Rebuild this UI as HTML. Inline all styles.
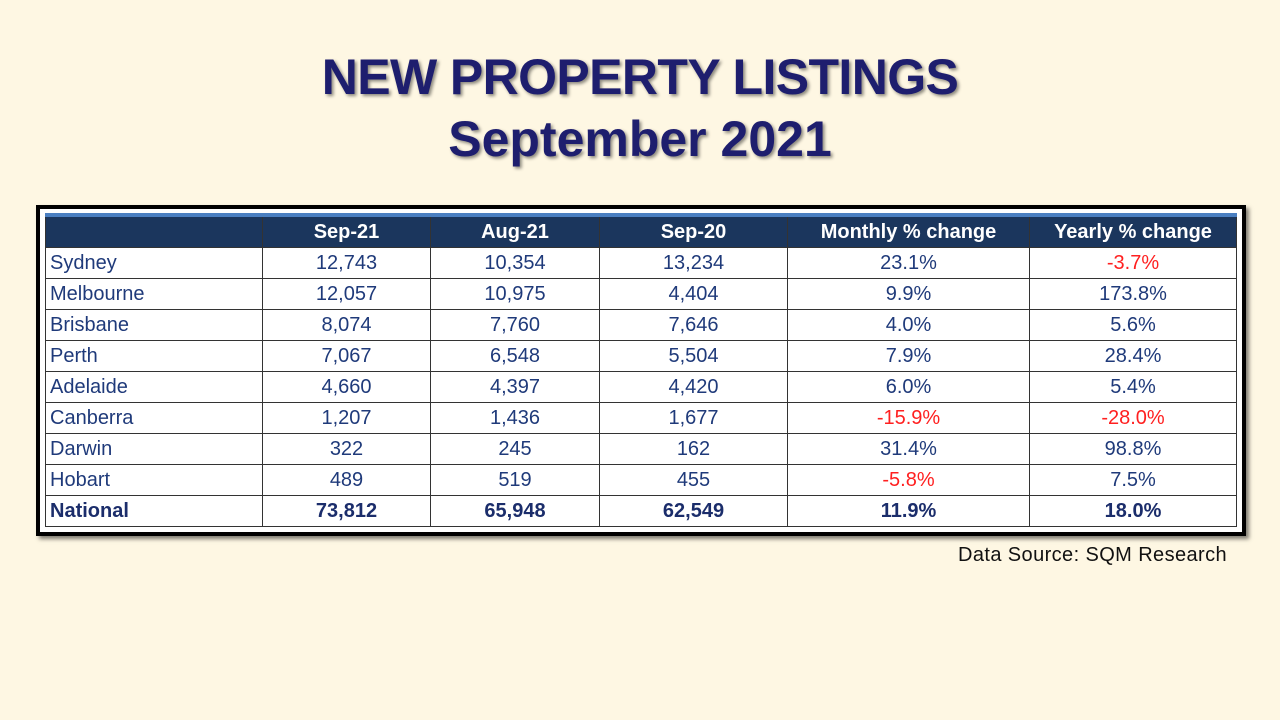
<!DOCTYPE html>
<html><head><meta charset="utf-8"><style>
body{margin:0;width:1280px;height:720px;background:#fef7e3;position:relative;overflow:hidden;font-family:"Liberation Sans",sans-serif}
.t{position:absolute;left:0;width:1280px;text-align:center;color:#1e1e6e;font-weight:bold;font-size:50px;text-shadow:2px 2px 3px rgba(0,0,0,0.45)}
.frame{position:absolute;left:36px;top:205px;width:1202px;height:323px;border:4px solid #000;background:#fff;box-shadow:3px 3px 4px rgba(0,0,0,0.5)}
table{position:absolute;left:5px;top:4px;border-collapse:collapse;font-size:20px;color:#1f3a7a}
td{border:1.5px solid #333;height:30px;padding:0;text-align:center}
td:first-child{text-align:left;padding-left:4px}
tr.h td{background:#1b365d;color:#fff;font-weight:bold;height:30px;border-top:4px solid #4a7fc1}
tr.n td{font-weight:bold;color:#1b2d6b}
.r{color:#ff2020}
.src{position:absolute;left:958px;top:544px;font-size:20px;color:#111;letter-spacing:0.4px}
</style></head><body>
<div class="t" style="top:48px;letter-spacing:-0.6px">NEW PROPERTY LISTINGS</div>
<div class="t" style="top:110px">September 2021</div>
<div class="frame"><table>
<colgroup><col style="width:217px"><col style="width:168px"><col style="width:169px"><col style="width:188px"><col style="width:242px"><col style="width:207px"></colgroup>
<tr class="h"><td></td><td>Sep-21</td><td>Aug-21</td><td>Sep-20</td><td>Monthly % change</td><td>Yearly % change</td></tr>
<tr><td>Sydney</td><td>12,743</td><td>10,354</td><td>13,234</td><td>23.1%</td><td class="r">-3.7%</td></tr>
<tr><td>Melbourne</td><td>12,057</td><td>10,975</td><td>4,404</td><td>9.9%</td><td>173.8%</td></tr>
<tr><td>Brisbane</td><td>8,074</td><td>7,760</td><td>7,646</td><td>4.0%</td><td>5.6%</td></tr>
<tr><td>Perth</td><td>7,067</td><td>6,548</td><td>5,504</td><td>7.9%</td><td>28.4%</td></tr>
<tr><td>Adelaide</td><td>4,660</td><td>4,397</td><td>4,420</td><td>6.0%</td><td>5.4%</td></tr>
<tr><td>Canberra</td><td>1,207</td><td>1,436</td><td>1,677</td><td class="r">-15.9%</td><td class="r">-28.0%</td></tr>
<tr><td>Darwin</td><td>322</td><td>245</td><td>162</td><td>31.4%</td><td>98.8%</td></tr>
<tr><td>Hobart</td><td>489</td><td>519</td><td>455</td><td class="r">-5.8%</td><td>7.5%</td></tr>
<tr class="n"><td>National</td><td>73,812</td><td>65,948</td><td>62,549</td><td>11.9%</td><td>18.0%</td></tr>
</table></div>
<div class="src">Data Source: SQM Research</div>
</body></html>
